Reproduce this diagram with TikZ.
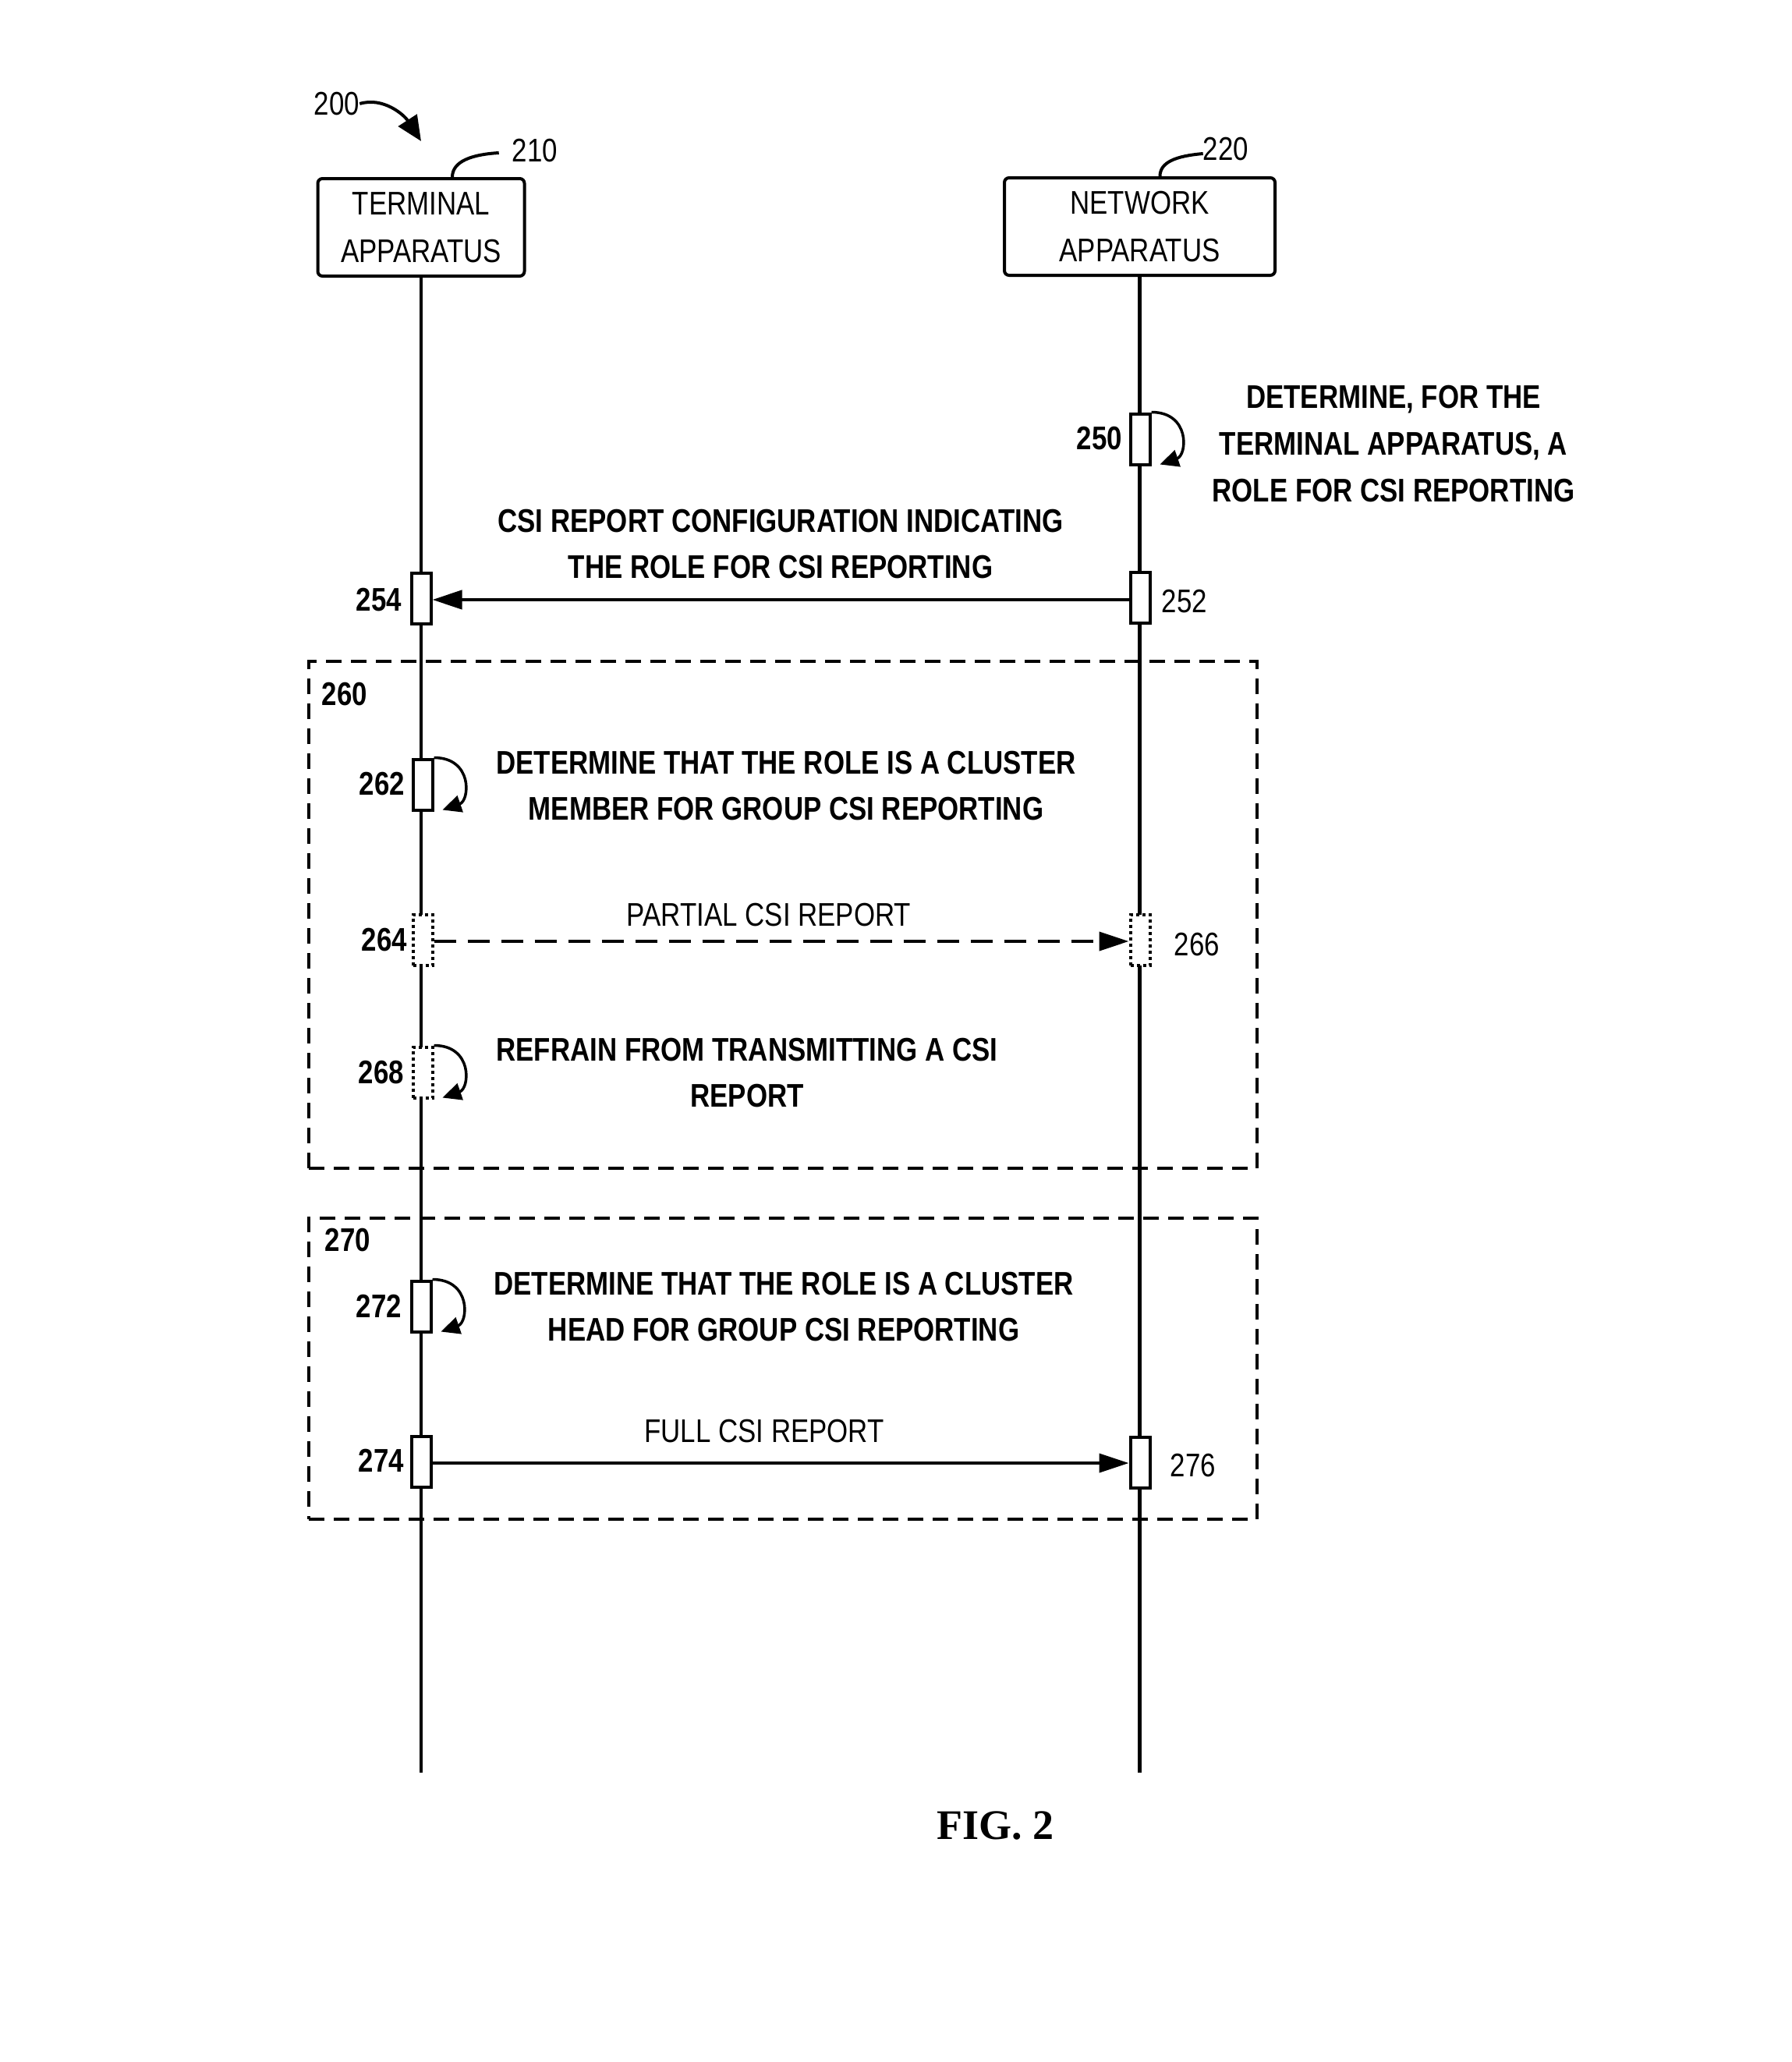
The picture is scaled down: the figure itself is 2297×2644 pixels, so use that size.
\documentclass[tikz,border=0pt]{standalone}
\usepackage{fontspec}
\setmainfont{Liberation Sans}
\newfontfamily\nar[FakeStretch=0.83]{Liberation Sans}
\newfontfamily\figfont{Liberation Serif}
\usetikzlibrary{arrows.meta,calc}
\begin{document}
\begin{tikzpicture}[x=1pt,y=-1pt,
  reg/.style={font=\nar\fontsize{42}{61}\selectfont, inner sep=0pt, align=center},
  bld/.style={font=\nar\bfseries\fontsize{42}{59}\selectfont, inner sep=0pt, align=center},
  entity/.style={draw, line width=4pt, rounded corners=6pt, minimum height=125pt, inner sep=0pt, fill=white},
  life/.style={line width=4.5pt},
  act/.style={draw, line width=4pt, fill=white, minimum width=25pt, minimum height=65pt, inner sep=0pt},
  dotact/.style={act, dash pattern=on 4pt off 4pt},
  frame/.style={draw, line width=3.5pt, dash pattern=on 20pt off 12pt, inner sep=0pt},
  msg/.style={line width=4pt, -{Triangle[length=38pt,width=24pt]}},
  selfarr/.style={line width=3.5pt, -{Triangle[length=24pt,width=22pt]}},
  lead/.style={line width=4pt}
]
\useasboundingbox (0,0) rectangle (2297,2644);

% frames
\node[frame, minimum width=1216pt, minimum height=650pt] (g260) at (1004,1173) {};
\node[frame, minimum width=1216pt, minimum height=386pt] (g270) at (1004,1755) {};
\node[bld] (l260) at (442,890) {260};
\node[bld] (l270) at (446,1590) {270};

% entities
\node[entity, minimum width=265pt, reg] (term) at (540,291.5) {TERMINAL\\APPARATUS};
\node[entity, minimum width=347pt, reg] (net) at (1461.5,290.5) {NETWORK\\APPARATUS};

\coordinate (tend) at (540,2273);
\coordinate (nend) at (1461.5,2273);
\draw[life] (term.south) -- (tend);
\draw[life] (net.south) -- (nend);

% reference labels
\node[reg] (l200) at (432,133) {200};
\coordinate (t200) at (540,181);
\draw[lead, -{Triangle[length=32pt,width=28pt]}] (l200.east) .. controls +(30,-9) and +(-22,-34) .. (t200);
\node[reg] (l210) at (686,193) {210};
\draw[lead] ([xshift=-17pt,yshift=-3pt]l210.west) .. controls +(-35,2) and +(0,-20) .. ([xshift=40pt]term.north);
\node[reg] (l220) at (1572,191) {220};
\draw[lead] ([yshift=-6pt]l220.west) .. controls +(-35,3) and +(0,-18) .. ([xshift=26pt]net.north);

% activation boxes
\node[act] (b250) at (1462,563) {};
\node[act] (b252) at (1462,766) {};
\node[act] (b254) at (540,767) {};
\node[act] (b262) at (542,1006) {};
\node[dotact] (b264) at (542,1205) {};
\node[dotact] (b266) at (1462,1205) {};
\node[dotact] (b268) at (542,1375) {};
\node[act] (b272) at (540,1675) {};
\node[act] (b274) at (540,1874) {};
\node[act] (b276) at (1462,1875) {};

% step numbers
\node[bld] (l250) at (1410,562) {250};
\node[bld] (l254) at (486,769) {254};
\node[reg] (l252) at (1519,771) {252};
\node[bld] (l262) at (490,1005) {262};
\node[bld] (l264) at (493,1205) {264};
\node[reg] (l266) at (1535,1211) {266};
\node[bld] (l268) at (489,1375) {268};
\node[bld] (l272) at (486,1675) {272};
\node[bld] (l274) at (489,1873) {274};
\node[reg] (l276) at (1530,1879) {276};

% self arrows
\draw[selfarr] (b250.north east) .. controls +(50,0) and +(35,-12) .. ($(b250.south east)+(11,-2)$);
\draw[selfarr] (b262.north east) .. controls +(50,0) and +(35,-12) .. ($(b262.south east)+(11,-2)$);
\draw[selfarr] (b268.north east) .. controls +(50,0) and +(35,-12) .. ($(b268.south east)+(11,-2)$);
\draw[selfarr] (b272.north east) .. controls +(50,0) and +(35,-12) .. ($(b272.south east)+(11,-2)$);

% messages
\draw[msg, line width=4.5pt] ([yshift=-3pt]b252.west) -- ([yshift=-3pt]b252.west -| b254.east);
\draw[msg, dash pattern=on 28pt off 15pt] ([yshift=-2pt]b264.east) -- ([yshift=-2pt]b264.east -| b266.west);
\draw[msg] ([yshift=-2pt]b274.east) -- ([yshift=-2pt]b274.east -| b276.west);

% texts
\node[bld, font=\nar\bfseries\fontsize{42}{60}\selectfont] (t250) at (1787,569) {DETERMINE, FOR THE\\TERMINAL APPARATUS, A\\ROLE FOR CSI REPORTING};
\node[bld] (tcfg) at (1001,697.5) {CSI REPORT CONFIGURATION INDICATING\\THE ROLE FOR CSI REPORTING};
\node[bld] (t262) at (1008,1007.5) {DETERMINE THAT THE ROLE IS A CLUSTER\\MEMBER FOR GROUP CSI REPORTING};
\node[reg] (tpart) at (986,1173) {PARTIAL CSI REPORT};
\node[bld] (t268) at (958,1375.5) {REFRAIN FROM TRANSMITTING A CSI\\REPORT};
\node[bld] (t272) at (1005,1675.5) {DETERMINE THAT THE ROLE IS A CLUSTER\\HEAD FOR GROUP CSI REPORTING};
\node[reg] (tfull) at (980,1835) {FULL CSI REPORT};

\node[font=\figfont\bfseries\fontsize{54}{60}\selectfont, inner sep=0pt] (fig) at (1276,2341) {FIG. 2};
\end{tikzpicture}
\end{document}
